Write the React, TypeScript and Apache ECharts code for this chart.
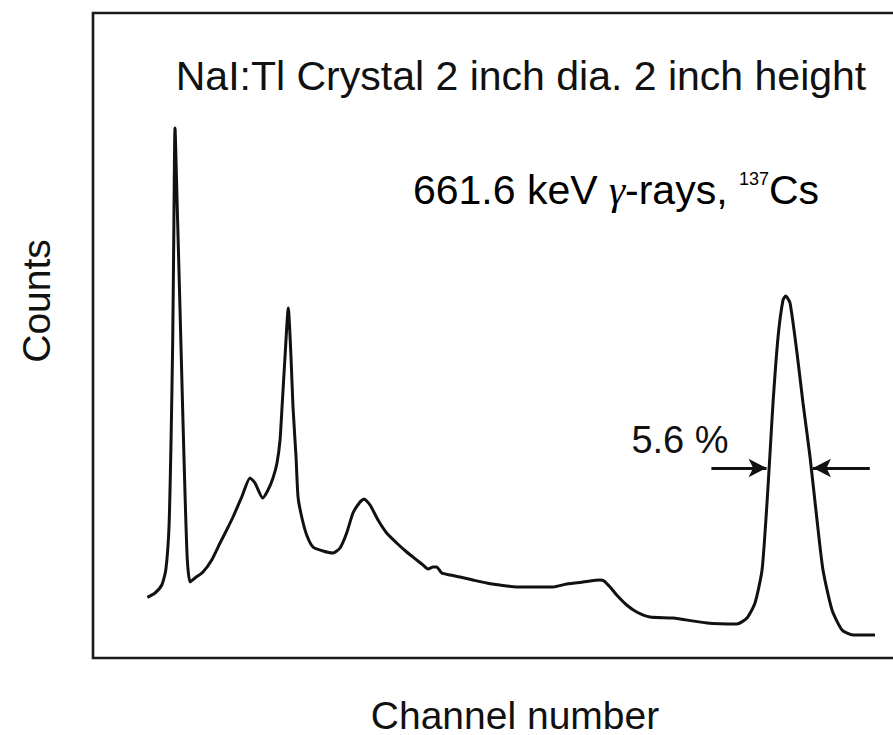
import { useEffect, useRef } from "react";
import * as echarts from "echarts";

// Pulse-height spectrum of a 137Cs source measured with a NaI(Tl) detector
const channels = [
  68, 77.5, 86, 91, 95, 97.5, 99.6, 100.9, 102.5, 105.4, 108.8, 112.1, 115, 117.9, 121.3,
  127.5, 137.5, 148.4, 158.8, 167.1, 175, 185.9, 196.3, 202.5, 212.1, 218.8, 225, 230,
  233.8, 236.3, 240, 244.1, 247.5, 250, 253.8, 256.3, 260.9, 267.1, 275, 287.5, 300,
  308.8, 317.1, 325, 333.8, 338.8, 346.3, 356.3, 367.1, 379.6, 392.1, 404.6, 412.5,
  418.8, 425, 429.6, 435.9, 446.3, 458.8, 475, 492.1, 508.8, 529.6, 550, 575, 592.1,
  612.5, 633.8, 638.8, 646.3, 654.6, 667.1, 679.6, 696.3, 725, 767.5, 805, 817.5, 827.5,
  836.3, 842.5, 846.3, 850, 856.3, 862.5, 865.9, 871.3, 880, 887.5, 896.3, 905, 912.5,
  923.8, 936.3, 950, 977.5,
];
const counts = [
  607, 650, 730, 880, 1310, 2150, 3150, 4150, 5300, 4480, 3480, 2480, 1650, 980, 760,
  800, 860, 980, 1150, 1280, 1410, 1610, 1800, 1750, 1600, 1680, 1800, 1950,
  2180, 2510, 3010, 3500, 3010, 2510, 2010, 1610, 1410, 1230, 1110, 1070, 1050,
  1100, 1250, 1450, 1560, 1590, 1530, 1380, 1250, 1150, 1060, 980, 930,
  890, 910, 910, 850, 830, 810, 780, 750, 730, 710, 710, 710, 740,
  760, 780, 770, 710, 630, 530, 460, 410, 400, 350, 340, 400, 550,
  880, 1550, 2050, 2550, 3210, 3580, 3620, 3550, 3050, 2550, 2010, 1380, 880,
  480, 280, 230, 230,
];

// Full width at half maximum of the 661.6 keV photopeak
const halfMaxLevel = [1900];
const fwhmEdges = [842, 900];
const arrowTails = [773, 971];
const resolutionLabel = "5.6 %";

const headline = "NaI:Tl Crystal 2 inch dia. 2 inch height";
const xTitle = "Channel number";
const yTitle = "Counts";

const FONT = '"Liberation Sans", Arial, Helvetica, sans-serif';
const INK = "#111111";

export default function App() {
  const ref = useRef<HTMLDivElement>(null);

  useEffect(() => {
    if (!ref.current) return;
    const chart = echarts.init(ref.current, undefined, { renderer: "svg" });

    chart.setOption({
      animation: false,
      backgroundColor: "#ffffff",
      grid: {
        show: true,
        left: 93,
        top: 13,
        width: 819.2,
        height: 645,
        outerBoundsMode: "none",
        containLabel: false,
        borderColor: "#1a1a1a",
        borderWidth: 2.6,
        backgroundColor: "transparent",
      },
      xAxis: {
        type: "value",
        min: 0,
        max: 1024,
        axisLine: { show: false },
        axisTick: { show: false },
        axisLabel: { show: false },
        splitLine: { show: false },
      },
      yAxis: {
        type: "value",
        min: 0,
        max: 6450,
        axisLine: { show: false },
        axisTick: { show: false },
        axisLabel: { show: false },
        splitLine: { show: false },
      },
      series: [
        {
          type: "line",
          data: channels.map((c, i) => [c, counts[i]]),
          showSymbol: false,
          smooth: 0.2,
          lineStyle: { color: INK, width: 3 },
          markLine: {
            silent: true,
            symbol: ["none", "arrow"],
            symbolSize: [14, 18],
            label: { show: false },
            lineStyle: { color: INK, width: 2.8, type: "solid" },
            data: [
              [
                { coord: [arrowTails[0], halfMaxLevel[0]] },
                { coord: [fwhmEdges[0], halfMaxLevel[0]] },
              ],
              [
                { coord: [arrowTails[1], halfMaxLevel[0]] },
                { coord: [fwhmEdges[1], halfMaxLevel[0]] },
              ],
            ],
          },
        },
      ],
      graphic: [
        {
          type: "text",
          x: 521,
          y: 76,
          style: {
            text: headline,
            fontFamily: FONT,
            fontSize: 41,
            fill: INK,
            align: "center",
            verticalAlign: "middle",
          },
        },
        {
          type: "text",
          x: 616,
          y: 190,
          style: {
            text: "{a|661.6 keV }{g|γ}{a|-rays, }{s|137}{a|Cs}",
            align: "center",
            verticalAlign: "middle",
            rich: {
              a: { fontFamily: FONT, fontSize: 41, color: INK },
              g: {
                fontFamily: '"Liberation Serif", "DejaVu Serif", serif',
                fontStyle: "italic",
                fontSize: 41,
                color: INK,
              },
              s: { fontFamily: FONT, fontSize: 18, color: INK, verticalAlign: "top" },
            },
          },
        },
        {
          type: "text",
          x: 680,
          y: 440,
          style: {
            text: resolutionLabel,
            fontFamily: FONT,
            fontSize: 38,
            fill: INK,
            align: "center",
            verticalAlign: "middle",
          },
        },
        {
          type: "text",
          x: 515,
          y: 715,
          style: {
            text: xTitle,
            fontFamily: FONT,
            fontSize: 39,
            fill: INK,
            align: "center",
            verticalAlign: "middle",
          },
        },
        {
          type: "text",
          x: 36,
          y: 301,
          rotation: Math.PI / 2,
          style: {
            text: yTitle,
            fontFamily: FONT,
            fontSize: 39,
            fill: INK,
            align: "center",
            verticalAlign: "middle",
          },
        },
      ],
    });

    return () => chart.dispose();
  }, []);

  return (
    <div
      ref={ref}
      style={{ position: "absolute", left: 0, top: 0, width: 893, height: 735 }}
    />
  );
}
